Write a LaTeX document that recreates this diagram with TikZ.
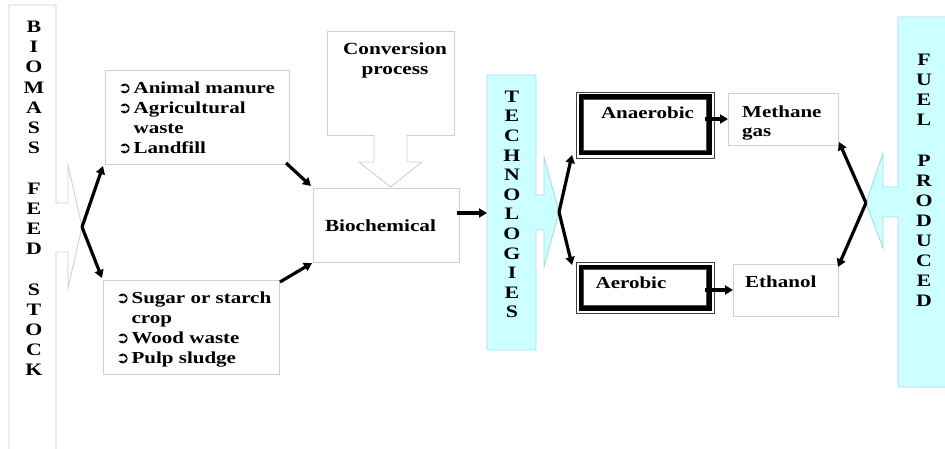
\documentclass[tikz,border=0pt]{standalone}
\usepackage{fontspec}
\setmainfont{Liberation Serif}[FakeStretch=1.25]
\newfontfamily\dejavu{DejaVu Sans}
\usetikzlibrary{arrows.meta}
\definecolor{boxgray}{HTML}{D0D0D0}
\definecolor{cyanfill}{HTML}{CCFFFF}
\definecolor{cyanline}{HTML}{A8DCE0}
\newcommand{\blt}{{\dejavu\fontsize{16}{12}\selectfont ➲}}
\begin{document}
\begin{tikzpicture}[x=1pt,y=-1pt,
  graybox/.style={draw=boxgray, line width=0.9pt, fill=white, inner sep=0pt, outer sep=0pt, anchor=north west},
  callout/.style={draw=boxgray, line width=0.9pt, fill=white},
  cyancallout/.style={draw=cyanline, line width=0.9pt, fill=cyanfill},
  bigarrow/.style={-{Triangle[length=8pt,width=9pt]}, line width=3.2pt, black},
  lbl/.style={inner sep=0pt, font=\bfseries\fontsize{16.8}{20}\selectfont},
  biglbl/.style={inner sep=0pt, font=\bfseries\fontsize{17}{20}\selectfont},
  vlbl/.style={inner sep=0pt, align=center, font=\bfseries\fontsize{17.5}{20.2}\selectfont},
  techbox/.style={draw=black!75, line width=0.8pt, fill=white, inner sep=0pt, outer sep=0pt, anchor=north west}
]
\useasboundingbox (0,0) rectangle (945,449);

% Biomass feed stock callout
\draw[callout] (9,5) -- (56,5) -- (56,203) -- (68,203) -- (68,165) -- (82,227)
  -- (68,288) -- (68,252) -- (56,252) -- (56,460) -- (9,460) -- cycle;
\coordinate (bmt) at (82,227);
\node[vlbl] (bmtxt) at (34,198.5) {B\\I\\O\\M\\A\\S\\S\\~\\F\\E\\E\\D\\~\\S\\T\\O\\C\\K};

% source boxes
\node[graybox, minimum width=184pt, minimum height=94pt] (src1) at (105,70) {};
\node[lbl, anchor=base west] (src1txt) at (118,93.3)
  {\begin{tabular}[t]{@{}l@{\hspace{2pt}}l@{}}\blt & Animal manure\\ \blt & Agricultural\\ & waste\\ \blt & Landfill\end{tabular}};
\node[graybox, minimum width=176pt, minimum height=94pt] (src2) at (103,280) {};
\node[lbl, anchor=base west] (src2txt) at (116,303.3)
  {\begin{tabular}[t]{@{}l@{\hspace{2pt}}l@{}}\blt & Sugar or starch\\ & crop\\ \blt & Wood waste\\ \blt & Pulp sludge\end{tabular}};

% conversion process
\node[graybox, minimum width=127pt, minimum height=104pt] (conv) at (327,31) {};
\node[biglbl, align=center, anchor=north] (convtxt) at (395,42.5) {Conversion\\process};
\draw[callout] (374,135) -- (374,162) -- (359,162) -- (390.5,187) -- (422,162) -- (407,162) -- (407,135);

% biochemical
\node[graybox, minimum width=146pt, minimum height=74pt] (bio) at (313,188) {};
\node[biglbl, anchor=base] (biotxt) at (380.5,231.6) {Biochemical};

% technologies callout
\draw[cyancallout] (487,75) -- (536,75) -- (536,195) -- (544,195) -- (544,157) -- (559,212)
  -- (544,267) -- (544,230) -- (536,230) -- (536,350) -- (487,350) -- cycle;
\coordinate (tct) at (559,212);
\coordinate (tcl) at (487,213);
\node[vlbl, font=\bfseries\fontsize{17.5}{19.6}\selectfont] (tctxt) at (512,204.5) {T\\E\\C\\H\\N\\O\\L\\O\\G\\I\\E\\S};

% anaerobic / aerobic
\node[techbox, minimum width=138pt, minimum height=66pt] (ana) at (576,92) {};
\draw[line width=4.2pt] ([xshift=4.6pt,yshift=-4.6pt]ana.north west) rectangle ([xshift=-4.6pt,yshift=4.6pt]ana.south east);
\draw[line width=0.8pt, black!70] ([xshift=7.8pt,yshift=-7.8pt]ana.north west) rectangle ([xshift=-7.8pt,yshift=7.8pt]ana.south east);
\node[lbl, anchor=base] (anatxt) at (647.5,118.5) {Anaerobic};

\node[techbox, minimum width=138pt, minimum height=51pt] (aer) at (576,262) {};
\draw[line width=4.2pt] ([xshift=4.6pt,yshift=-4.6pt]aer.north west) rectangle ([xshift=-4.6pt,yshift=4.6pt]aer.south east);
\draw[line width=0.8pt, black!70] ([xshift=7.8pt,yshift=-7.8pt]aer.north west) rectangle ([xshift=-7.8pt,yshift=7.8pt]aer.south east);
\node[lbl, anchor=base] (aertxt) at (631,288.5) {Aerobic};

% products
\node[graybox, minimum width=110pt, minimum height=52pt] (meth) at (728,93) {};
\node[lbl, align=left, anchor=north west, font=\bfseries\fontsize{16.8}{19.5}\selectfont] (methtxt) at (742,105.3) {Methane\\gas};
\node[graybox, minimum width=105pt, minimum height=52pt] (eth) at (733,264) {};
\node[lbl, anchor=base west] (ethtxt) at (745,287.5) {Ethanol};

% fuel produced callout
\draw[cyancallout] (960,17) -- (898,17) -- (898,187) -- (883,187) -- (883,153) -- (866,203)
  -- (883,248) -- (883,217) -- (898,217) -- (898,387) -- (960,387) -- cycle;
\coordinate (fpt) at (866,203);
\node[vlbl, font=\bfseries\fontsize{17.5}{20.1}\selectfont] (fptxt) at (924,180.5) {F\\U\\E\\L\\~\\P\\R\\O\\D\\U\\C\\E\\D};

% connectors
\coordinate (bioout) at (457,213);
\coordinate (anaout) at (705,119);
\coordinate (aerout) at (705,290);
\draw[bigarrow] (bmt) -- ([xshift=-2pt,yshift=-2pt]src1.south west);
\draw[bigarrow] (bmt) -- ([xshift=-1pt,yshift=2pt]src2.north west);
\draw[bigarrow] ([xshift=-3pt,yshift=1pt]src1.south east) -- ([xshift=-2pt,yshift=2pt]bio.north west);
\draw[bigarrow] ([xshift=1pt,yshift=-2pt]src2.north east) -- ([xshift=-1pt,yshift=-1pt]bio.south west);
\draw[bigarrow] (bioout) -- (tcl);
\draw[bigarrow] (tct) -- ([xshift=-4pt,yshift=3pt]ana.south west);
\draw[bigarrow] (tct) -- ([xshift=-4pt,yshift=-3pt]aer.north west);
\draw[bigarrow] (anaout) -- (meth.west);
\draw[bigarrow] (aerout) -- (eth.west);
\draw[bigarrow] (fpt) -- ([xshift=1pt,yshift=3pt]meth.south east);
\draw[bigarrow] (fpt) -- ([yshift=-3pt]eth.north east);
\end{tikzpicture}
\end{document}
